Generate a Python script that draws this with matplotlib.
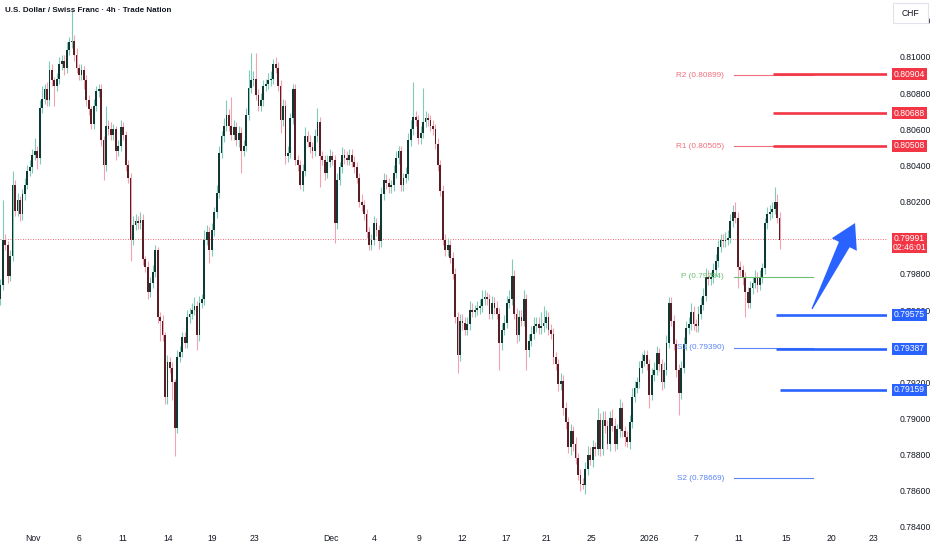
import numpy as np
import matplotlib
matplotlib.use("Agg")
import matplotlib.pyplot as plt
from matplotlib.patches import Polygon, Rectangle
from matplotlib.transforms import IdentityTransform

plt.rcParams['font.family'] = ['Liberation Sans', 'DejaVu Sans']

title = "U.S. Dollar / Swiss Franc · 4h · Trade Nation"

# 4h candles, prices in units of 0.0001 (open of each bar = previous close)
first_open = 7966
closes = [
    7974, 7999, 7996, 7979, 7990, 8029, 8015, 8021, 8013, 8024, 8029, 8037, 8039, 8046, 8048, 8044, 8072, 8077, 8082, 8076,
    8093, 8087, 8084, 8088, 8096, 8098, 8094, 8104, 8108, 8109, 8101, 8094, 8090, 8093, 8087, 8076, 8071, 8063, 8073, 8081,
    8082, 8054, 8040, 8062, 8060, 8057, 8060, 8048, 8051, 8061, 8057, 8040, 8033, 7999, 8007, 8009, 8008, 8010, 7988, 7984,
    7970, 7975, 7981, 7993, 7956, 7954, 7946, 7912, 7931, 7928, 7920, 7895, 7934, 7937, 7945, 7942, 7956, 7958, 7960, 7962,
    7946, 7964, 7966, 7999, 8003, 7993, 8004, 8014, 8025, 8047, 8056, 8062, 8068, 8062, 8057, 8061, 8054, 8058, 8048, 8051,
    8068, 8083, 8087, 8088, 8079, 8073, 8076, 8084, 8085, 8087, 8088, 8096, 8094, 8084, 8065, 8073, 8045, 8047, 8066, 8082,
    8043, 8040, 8029, 8037, 8056, 8053, 8050, 8048, 8056, 8064, 8045, 8043, 8036, 8042, 8045, 8043, 8008, 8032, 8039, 8046,
    8044, 8043, 8046, 8042, 8039, 8033, 8020, 8018, 8013, 8003, 7996, 7999, 8008, 8004, 7998, 8024, 8032, 8030, 8028, 8029,
    8036, 8044, 8048, 8029, 8033, 8035, 8054, 8060, 8067, 8065, 8055, 8058, 8064, 8066, 8065, 8062, 8060, 8052, 8040, 8026,
    7999, 7993, 7996, 7989, 7980, 7956, 7935, 7954, 7953, 7949, 7952, 7960, 7959, 7960, 7961, 7962, 7966, 7967, 7966, 7958,
    7964, 7961, 7958, 7942, 7949, 7953, 7964, 7966, 7979, 7958, 7946, 7956, 7954, 7966, 7938, 7943, 7947, 7951, 7952, 7950,
    7951, 7953, 7956, 7949, 7947, 7934, 7930, 7919, 7921, 7906, 7898, 7884, 7893, 7886, 7878, 7869, 7864, 7863, 7872, 7880,
    7877, 7884, 7883, 7899, 7883, 7899, 7896, 7886, 7900, 7896, 7886, 7894, 7906, 7893, 7890, 7887, 7898, 7912, 7917, 7920,
    7928, 7932, 7935, 7930, 7913, 7924, 7927, 7936, 7930, 7920, 7927, 7942, 7964, 7954, 7941, 7927, 7914, 7928, 7941, 7950,
    7952, 7959, 7952, 7951, 7958, 7963, 7968, 7978, 7977, 7978, 7982, 7987, 7995, 7999, 7998, 7999, 8000, 8009, 8014, 8011,
    7984, 7982, 7978, 7970, 7964, 7972, 7975, 7978, 7974, 7978, 7983, 8008, 8013, 8014, 8016, 8020, 8011, 7999,
]
upper_wick = [
    3, 22, 3, 2, 3, 8, 3, 4, 2, 3, 4, 3, 4, 3, 7, 3, 4, 7, 3, 4,
    5, 3, 2, 3, 4, 3, 3, 4, 3, 17, 3, 4, 2, 3, 2, 3, 3, 2, 4, 3,
    3, 3, 2, 11, 3, 4, 3, 2, 3, 4, 3, 2, 3, 3, 5, 4, 3, 4, 3, 2,
    3, 3, 4, 3, 2, 3, 3, 2, 4, 3, 3, 2, 4, 3, 3, 3, 4, 3, 4, 5,
    3, 4, 3, 5, 4, 3, 4, 3, 4, 4, 3, 4, 8, 3, 16, 4, 3, 4, 3, 3,
    4, 10, 15, 4, 14, 3, 4, 3, 3, 4, 4, 3, 4, 3, 3, 4, 3, 4, 3, 3,
    3, 3, 3, 4, 5, 3, 4, 3, 4, 8, 3, 3, 3, 4, 4, 3, 3, 4, 3, 4,
    3, 4, 3, 3, 3, 3, 3, 4, 3, 3, 3, 3, 4, 3, 3, 4, 4, 3, 3, 3,
    4, 4, 3, 3, 3, 4, 4, 5, 19, 3, 3, 4, 19, 4, 3, 3, 3, 3, 3, 3,
    3, 3, 4, 3, 3, 3, 3, 4, 4, 3, 4, 5, 4, 3, 4, 4, 5, 4, 3, 3,
    4, 3, 4, 3, 4, 4, 4, 5, 9, 3, 3, 4, 4, 5, 3, 4, 4, 5, 4, 4,
    8, 9, 4, 3, 3, 3, 3, 3, 4, 3, 3, 3, 4, 3, 4, 3, 3, 3, 4, 5,
    4, 4, 3, 7, 4, 5, 5, 3, 4, 5, 4, 3, 5, 3, 3, 3, 4, 5, 4, 3,
    4, 4, 3, 3, 3, 4, 4, 4, 3, 3, 4, 4, 3, 3, 3, 3, 3, 4, 4, 4,
    4, 5, 3, 3, 4, 4, 4, 5, 4, 3, 4, 4, 4, 3, 3, 4, 4, 4, 4, 6,
    3, 3, 3, 3, 3, 4, 3, 4, 3, 4, 3, 3, 4, 4, 4, 8, 4, 3,
]
lower_wick = [
    3, 3, 3, 4, 3, 3, 3, 3, 4, 3, 3, 2, 3, 3, 3, 6, 3, 3, 3, 3,
    3, 3, 11, 3, 3, 3, 4, 3, 3, 3, 3, 3, 3, 3, 5, 3, 3, 3, 3, 3,
    3, 3, 8, 3, 3, 3, 3, 5, 3, 3, 3, 3, 3, 12, 3, 3, 3, 3, 3, 3,
    4, 3, 3, 3, 3, 11, 3, 4, 4, 3, 10, 16, 3, 3, 3, 3, 3, 3, 3, 3,
    8, 3, 3, 3, 3, 7, 3, 3, 3, 3, 3, 3, 3, 3, 3, 3, 3, 4, 12, 3,
    3, 3, 3, 3, 3, 3, 3, 3, 3, 3, 3, 3, 3, 3, 7, 3, 4, 3, 3, 3,
    3, 3, 2, 3, 3, 3, 3, 4, 3, 3, 17, 3, 4, 3, 3, 3, 11, 3, 3, 3,
    3, 3, 3, 3, 3, 3, 3, 3, 3, 3, 3, 3, 3, 3, 4, 3, 3, 3, 3, 3,
    3, 3, 3, 3, 3, 3, 3, 3, 3, 3, 3, 3, 3, 3, 3, 3, 3, 3, 3, 3,
    3, 3, 3, 3, 3, 3, 10, 3, 4, 3, 3, 3, 3, 3, 3, 3, 3, 3, 3, 3,
    3, 3, 3, 15, 4, 3, 3, 3, 3, 3, 4, 3, 3, 3, 11, 4, 3, 3, 3, 3,
    3, 3, 3, 3, 3, 4, 3, 4, 3, 4, 4, 3, 4, 4, 3, 3, 4, 2, 5, 3,
    3, 4, 4, 3, 4, 3, 4, 3, 4, 3, 4, 3, 4, 3, 5, 3, 4, 3, 3, 3,
    3, 3, 3, 3, 7, 3, 3, 3, 4, 4, 3, 3, 3, 3, 3, 4, 12, 3, 3, 3,
    3, 3, 3, 3, 3, 3, 3, 3, 3, 3, 3, 3, 3, 3, 3, 3, 3, 3, 3, 3,
    12, 3, 4, 14, 3, 3, 3, 3, 4, 3, 3, 3, 3, 3, 3, 3, 3, 5,
]
assert len(closes) == len(upper_wick) == len(lower_wick)

date_labels = ["Nov", "6", "11", "14", "19", "23", "Dec", "4", "9", "12", "17",
               "21", "25", "2026", "7", "11", "15", "20", "23"]
date_pos = [13.4, 32.1, 50.0, 68.4, 86.0, 103.2, 134.4, 152.3, 170.5, 187.9, 205.8,
            222.0, 240.4, 263.8, 283.0, 300.6, 319.7, 337.9, 355.1]

# scale labels; 0.80000 and 0.79400 sit under the price tags, so left blank
price_ticks = [0.784, 0.786, 0.788, 0.790, 0.792, 0.794, 0.796, 0.798,
               0.800, 0.802, 0.804, 0.806, 0.808, 0.810, 0.812]
hidden_ticks = [0.800, 0.794]

pivot_names = ["R2", "R1", "P", "S1", "S2"]
pivot_values = [0.80899, 0.80505, 0.79784, 0.79390, 0.78669]
pivot_colors = ["#f06d7c", "#f06d7c", "#6cbf73", "#5b84f5", "#5b84f5"]

level_values = [0.80904, 0.80688, 0.80508, 0.79575, 0.79387, 0.79159]
level_colors = ["#f23645"] * 3 + ["#2962ff"] * 3
level_start = [314.4, 314.4, 314.4, 315.6, 315.6, 317.2]

last_price = 0.79991
countdown = "02:46:01"

UP_BODY, UP_WICK = "#0f3932", "#7fcdb9"
DN_BODY, DN_WICK = "#5a1e27", "#f4a2b0"
TXT = "#131722"
FS = 6.2

W, H = 932, 550
fig = plt.figure(figsize=(W / 100, H / 100), dpi=100)
ax = fig.add_axes([0, 20 / H, 887 / W, 530 / H])
ax.set_xlim(-0.12, 360.7)
ax.set_ylim(0.78383, 0.81315)
for s in ax.spines.values():
    s.set_visible(False)

c = np.array(closes) / 1e4
o = np.r_[first_open, closes[:-1]] / 1e4
hi = np.maximum(o, c) + np.array(upper_wick) / 1e4
lo = np.minimum(o, c) - np.array(lower_wick) / 1e4
x = np.arange(len(c))
up = c >= o
body_h = np.maximum(np.abs(c - o), 0.00004)
body_b = np.minimum(o, c)

ax.vlines(x[up], lo[up], hi[up], color=UP_WICK, lw=0.8, zorder=2)
ax.vlines(x[~up], lo[~up], hi[~up], color=DN_WICK, lw=0.8, zorder=2)
ax.bar(x[up], body_h[up], bottom=body_b[up], width=0.74, color=UP_BODY, lw=0, zorder=3)
ax.bar(x[~up], body_h[~up], bottom=body_b[~up], width=0.74, color=DN_BODY, lw=0, zorder=3)

# current price dotted line
ax.axhline(last_price, color="#f23645", lw=0.6, ls=(0, (1, 2)), zorder=1)

# weekly pivots
pivot_start, pivot_end = 298.3, 330.6
for name, v, col in zip(pivot_names, pivot_values, pivot_colors):
    ax.plot([pivot_start, pivot_end], [v, v], color=col, lw=0.8, zorder=4)
    ax.annotate(f"{name} ({v:.5f})", xy=(pivot_start, v), xytext=(-6.8, 0),
                textcoords="offset points", ha="right", va="center",
                fontsize=5.9, color=col, zorder=5)

# horizontal rays
for v, col, x0 in zip(level_values, level_colors, level_start):
    ax.plot([x0, 360.7], [v, v], color=col, lw=1.9, solid_capstyle="butt", zorder=4)

# right price scale
ax.yaxis.tick_right()
ax.set_yticks(price_ticks)
ax.set_yticklabels(["" if v in hidden_ticks else f"{v:.5f}" for v in price_ticks])
ax.tick_params(axis="y", length=0, pad=9.0, labelsize=FS, labelcolor=TXT)
ax.set_xticks(date_pos)
ax.set_xticklabels(date_labels)
ax.tick_params(axis="x", length=0, pad=3.2, labelsize=FS, labelcolor=TXT)

fig.canvas.draw()
to_px = ax.transData.transform


def tag(value, text, color, h=12):
    yp = to_px((0, value))[1]
    fig.patches.append(Rectangle((892, yp - h / 2), 35, h, transform=IdentityTransform(),
                                 facecolor=color, edgecolor="none", zorder=10))
    fig.text(909.5 / W, yp / H, text, ha="center", va="center", color="white",
             fontsize=FS, zorder=11)


for v, col in zip(level_values, level_colors):
    tag(v, f"{v:.5f}", col)

yp = to_px((0, last_price))[1]
fig.patches.append(Rectangle((892, yp - 14), 35, 20, transform=IdentityTransform(),
                             facecolor="#f23645", edgecolor="none", zorder=10))
fig.text(909.5 / W, (yp + 0.5) / H, f"{last_price:.5f}", ha="center", va="center",
         color="white", fontsize=FS, zorder=11)
fig.text(909.5 / W, (yp - 8.5) / H, countdown, ha="center", va="center",
         color="white", fontsize=FS, zorder=11)

# currency box
fig.patches.append(Rectangle((893, H - 23), 35, 20, transform=IdentityTransform(),
                             facecolor="white", edgecolor="#e0e3eb", lw=0.8, zorder=10))
fig.text(910.5 / W, (H - 13) / H, "CHF", ha="center", va="center", color=TXT,
         fontsize=FS, zorder=11)

# arrow
tail = to_px((330.2, 0.79606))
tip = to_px((347.7, 0.80081))
d = (tip - tail) / np.hypot(*(tip - tail))
n = np.array([-d[1], d[0]])
base = tip - d * 24
pts = [tail + n * 0.6, base + n * 6, base + n * 14, tip,
       base - n * 14, base - n * 6, tail - n * 0.6]
fig.patches.append(Polygon(pts, closed=True, transform=IdentityTransform(),
                           facecolor="#2962ff", edgecolor="none", zorder=9))

fig.text(5 / W, 1 - 11 / H, title, ha="left", va="center", fontsize=5.8,
         fontweight="bold", color=TXT)

fig.savefig("out.png", dpi=100, facecolor="white")
